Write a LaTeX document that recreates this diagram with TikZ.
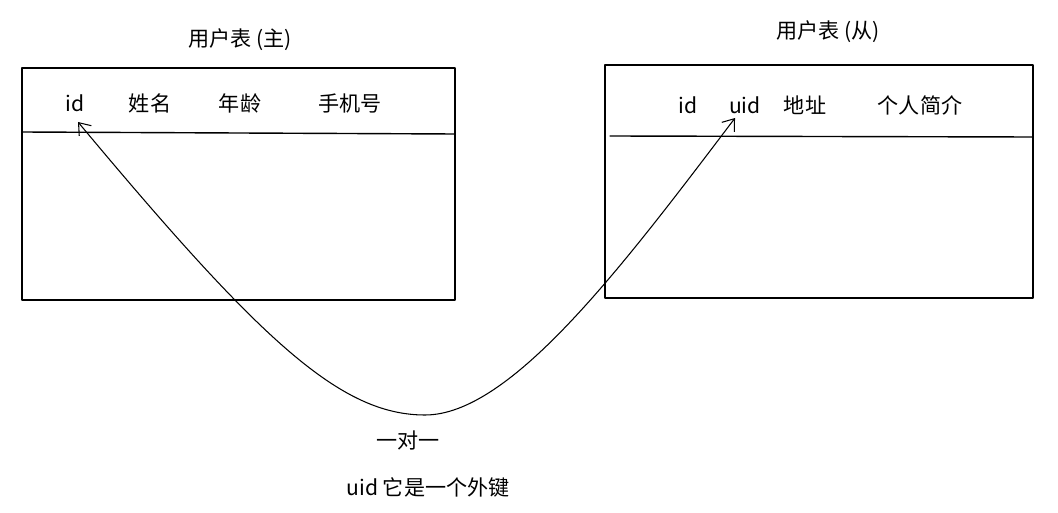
\documentclass[tikz,border=0pt]{standalone}
\usepackage{fontspec}
\newfontfamily\cjk{Noto Sans CJK SC}
\usetikzlibrary{arrows.meta}
\begin{document}
\begin{tikzpicture}[line cap=round,line join=round,>={Straight Barb[length=6pt,width=9pt]},x=0.02cm,y=-0.02cm,
  lbl/.style={font=\cjk\fontsize{12}{14}\selectfont,inner sep=1pt}]
  \useasboundingbox (0,0) rectangle (1058,513);
  % left table
  \draw [line width=0.8pt] (22,68) rectangle (455,300);
  \draw [line width=0.8pt] (22,132) -- (455,134);
  \node[lbl] (tl) at (240,40) {用户表 (主)};
  \node[lbl] (lid) at (75,103) {id};
  \node[lbl] (lname) at (150,103) {姓名};
  \node[lbl] (lage) at (240,103) {年龄};
  \node[lbl] (lphone) at (350,103) {手机号};
  % right table
  \draw [line width=0.8pt] (605,65) rectangle (1033,298);
  \draw [line width=0.8pt] (610,136) -- (1033,137);
  \node[lbl] (tr) at (828,32) {用户表 (从)};
  \node[lbl] (rid) at (688,105) {id};
  \node[lbl] (ruid) at (745,105) {uid};
  \node[lbl] (raddr) at (805,105) {地址};
  \node[lbl] (rintro) at (920,105) {个人简介};
  % relation
  \coordinate (bot) at (425,415);
  \draw [<->,line width=0.6pt] (78,122) .. controls (260,340) and (340,415) .. (bot)
     .. controls (510,415) and (620,270) .. (735,118);
  \node[lbl] (one) at (408,440) {一对一};
  \node[lbl] (fk) at (428,487) {uid 它是一个外键};
\end{tikzpicture}
\end{document}
